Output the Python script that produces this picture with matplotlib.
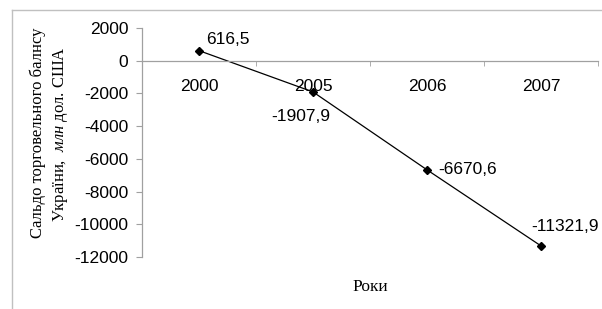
import matplotlib
matplotlib.use("Agg")
import matplotlib.pyplot as plt
from matplotlib.lines import Line2D

years = ["2000", "2005", "2006", "2007"]
balance = [616.5, -1907.9, -6670.6, -11321.9]
labels = ["616,5", "-1907,9", "-6670,6", "-11321,9"]
label_offsets = [(7, 11, "left", "center"), (-12, -25, "center", "center"),
                 (11, 0, "left", "center"), (-10, 19, "left", "center")]
yticks = [2000, 0, -2000, -4000, -6000, -8000, -10000, -12000]

plt.rcParams["font.family"] = ["Liberation Sans", "DejaVu Sans"]
plt.rcParams["font.size"] = 12.5
plt.rcParams["mathtext.fontset"] = "custom"
plt.rcParams["mathtext.rm"] = "Liberation Serif"
plt.rcParams["mathtext.it"] = "Liberation Serif:italic"

W, H = 602, 309
fig = plt.figure(figsize=(W / 100, H / 100), dpi=100)
ax = fig.add_axes([142 / W, 1 - 257 / H, (598 - 142) / W, (257 - 28) / H])

gray = "#a0a0a0"
x = list(range(len(years)))
ax.plot(x, balance, color="black", lw=0.9, marker="D", ms=4.5, mfc="black", mec="black")

ax.set_xlim(-0.5, len(years) - 0.5)
ax.set_ylim(-12000, 2000)
ax.set_yticks(yticks)
ax.set_yticklabels([str(v) for v in yticks])
ax.set_xticks(x)
ax.set_xticklabels(years)
ax.set_xticks([i + 0.5 for i in x], minor=True)
ax.tick_params(axis="both", which="both", labelsize=12.5)
ax.tick_params(axis="x", which="major", length=0, pad=13.5)
ax.tick_params(axis="x", which="minor", length=3.5, color=gray, direction="out")
ax.tick_params(axis="y", length=4.3, color=gray, pad=5.5)

for s in ["top", "right"]:
    ax.spines[s].set_visible(False)
ax.spines["bottom"].set_position(("data", 0))
ax.spines["left"].set_color(gray)
ax.spines["bottom"].set_color(gray)
ax.spines["left"].set_linewidth(0.9)
ax.spines["bottom"].set_linewidth(0.9)

for xi, yi, lab, (dx, dy, ha, va) in zip(x, balance, labels, label_offsets):
    ax.annotate(lab, (xi, yi), xytext=(dx, dy), textcoords="offset pixels",
                ha=ha, va=va, fontsize=12.5)

fig.text(38 / W, 1 - 133 / H, "Сальдо торговельного балнсу", rotation=90,
         ha="center", va="center", family="Liberation Serif", fontsize=12)
fig.text(60 / W, 1 - 134 / H, "України,  $\\mathit{млн}$ дол. США", rotation=90,
         ha="center", va="center", family="Liberation Serif", fontsize=12)
fig.text(370 / W, 1 - 287 / H, "Роки", ha="center", va="center",
         family="Liberation Serif", fontsize=12.5)

fig.add_artist(Line2D([12 / W, 1], [1 - 10 / H, 1 - 10 / H], color="#c0c0c0", lw=1))
fig.add_artist(Line2D([12 / W, 12 / W], [0, 1 - 10 / H], color="#c0c0c0", lw=1))

fig.savefig("out.png", dpi=100)
